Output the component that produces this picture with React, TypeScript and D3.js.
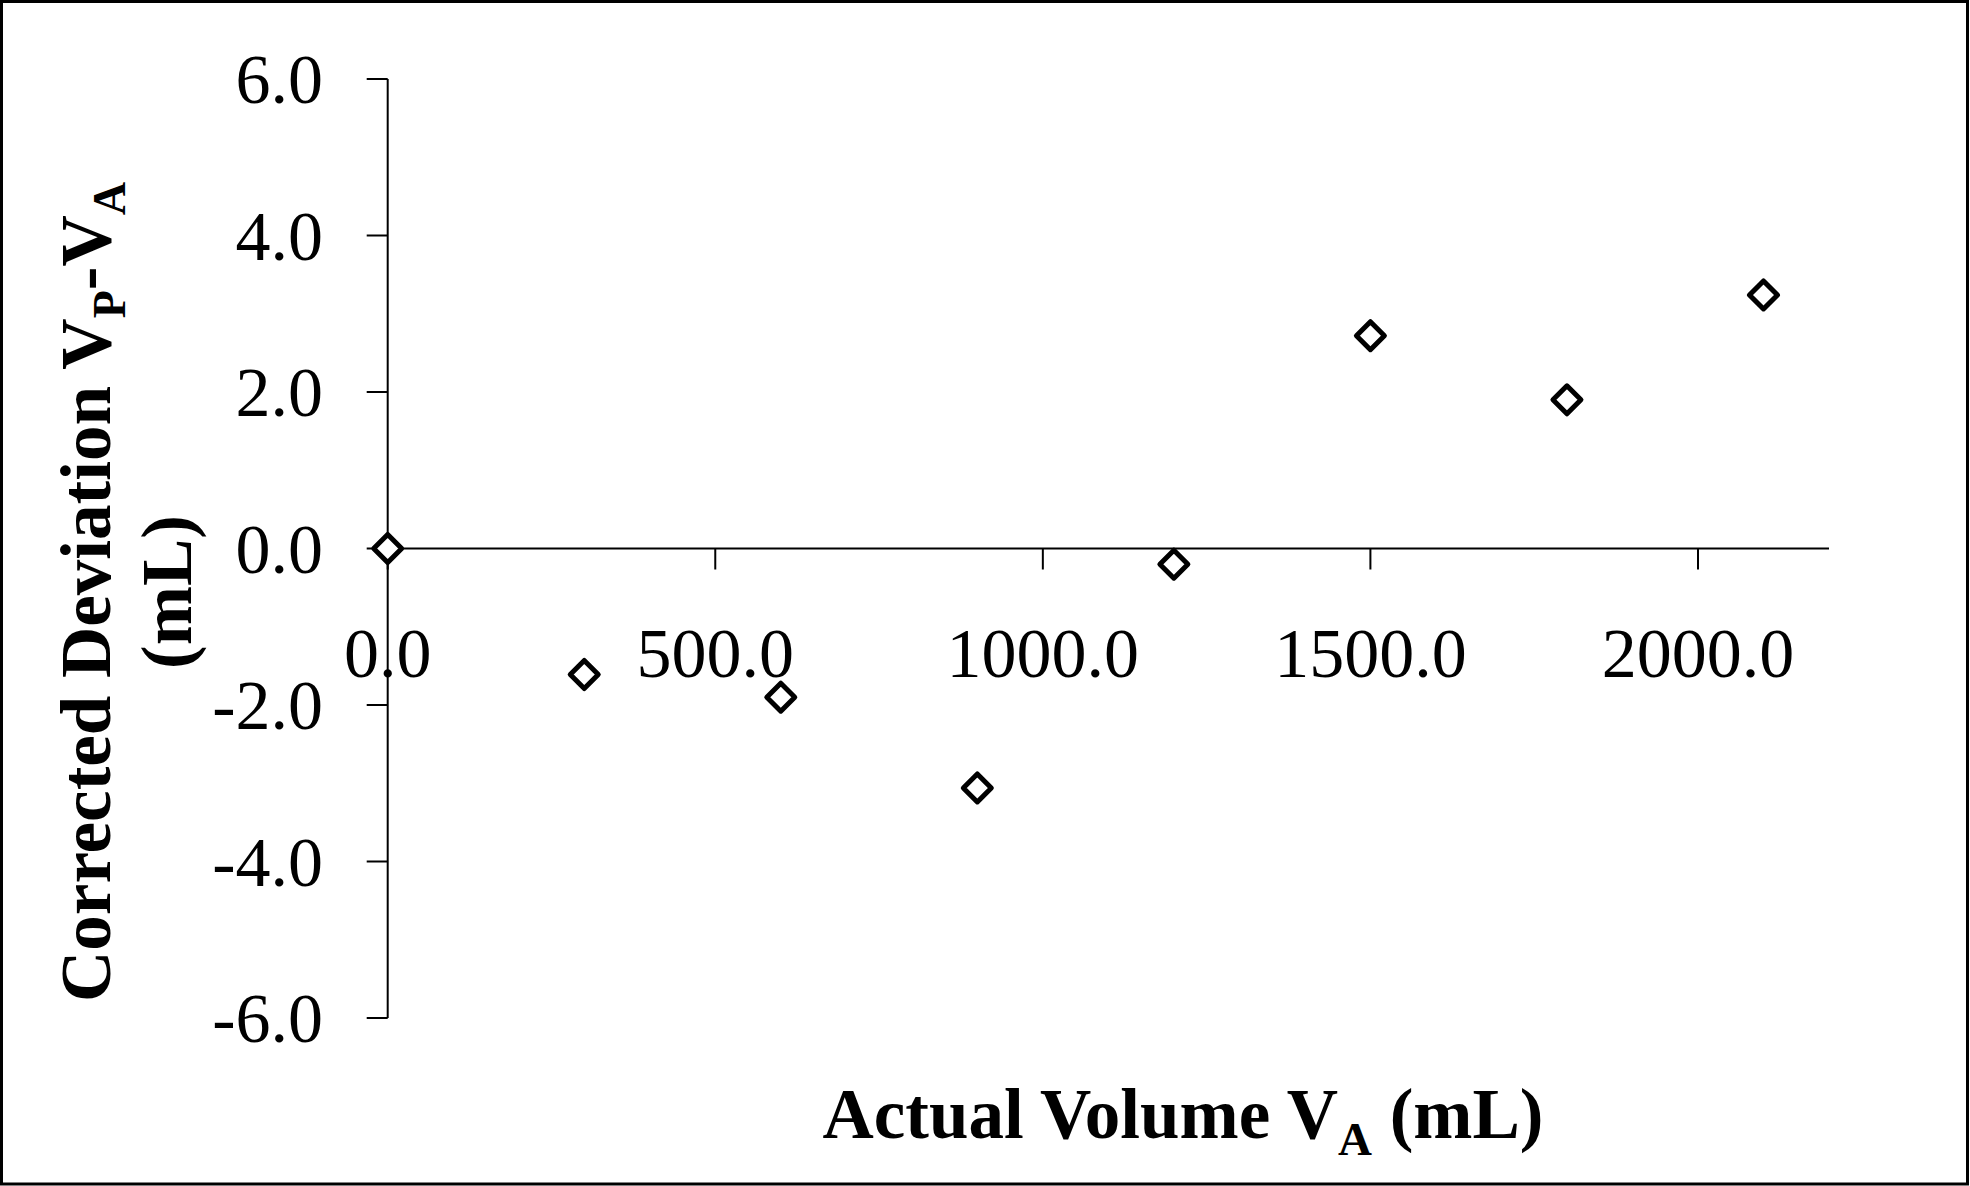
import React from "react";
import * as d3 from "d3";

const actualVolume = [0, 300, 600, 900, 1200, 1500, 1800, 2100];
const deviation = [0.0, -1.61, -1.9, -3.06, -0.2, 2.72, 1.9, 3.24];
const xTicks = [0, 500, 1000, 1500, 2000];
const yTicks = [-6, -4, -2, 0, 2, 4, 6];

const W = 1970;
const H = 1186;
const FONT = "'Liberation Serif', 'Times New Roman', serif";

export default function App() {
  const x = d3.scaleLinear().domain([0, 2200]).range([387.7, 1829]);
  const y = d3.scaleLinear().domain([-6, 6]).range([1018, 79]);
  const f = d3.format(".1f");
  const fmt = (v: number) => f(v).replace("\u2212", "-");
  const r = 14;
  const diamond = `M0,${-r}L${r},0L0,${r}L${-r},0Z`;
  const x0 = x(0);
  const y0 = y(0);

  return (
    <svg
      width={W}
      height={H}
      style={{ position: "absolute", left: 0, top: 0, background: "#fff" }}
      fontFamily={FONT}
    >
      <rect x={0} y={0} width={W} height={H} fill="#fff" />
      <rect x={1.5} y={1.5} width={1966} height={1182.5} fill="none" stroke="#000" strokeWidth={3} />

      {/* y axis */}
      <line x1={x0} x2={x0} y1={y(6)} y2={y(-6)} stroke="#000" strokeWidth={2} />
      {yTicks.map((t) => (
        <g key={"y" + t}>
          <line x1={x0 - 21} x2={x0} y1={y(t)} y2={y(t)} stroke="#000" strokeWidth={2} />
          <text x={323} y={y(t) + 24} textAnchor="end" fontSize={70} fill="#000">
            {fmt(t)}
          </text>
        </g>
      ))}

      {/* x axis */}
      <line x1={x0} x2={x(2200)} y1={y0} y2={y0} stroke="#000" strokeWidth={2} />
      {xTicks.map((t) => (
        <g key={"x" + t}>
          <line x1={x(t)} x2={x(t)} y1={y0} y2={y0 + 21} stroke="#000" strokeWidth={2} />
          <text x={x(t)} y={677} textAnchor="middle" fontSize={70} fill="#000">
            {fmt(t)}
          </text>
        </g>
      ))}

      {/* points */}
      {actualVolume.map((v, i) => (
        <path
          key={"p" + i}
          d={diamond}
          transform={`translate(${x(v)},${y(deviation[i])})`}
          fill="#fff"
          stroke="#000"
          strokeWidth={5}
          strokeLinejoin="round"
        />
      ))}

      {/* x title */}
      <text x={1183} y={1138} textAnchor="middle" fontSize={71} fontWeight="bold" fill="#000">
        Actual Volume V
        <tspan fontSize={47} dy={17}>A</tspan>
        <tspan dy={-17}> (mL)</tspan>
      </text>

      {/* y title */}
      <g transform="translate(110,592) rotate(-90)">
        <text x={0} y={0} textAnchor="middle" fontSize={71} fontWeight="bold" fill="#000">
          Corrected Deviation V
          <tspan fontSize={46} dy={15}>P</tspan>
          <tspan dy={-15}>-V</tspan>
          <tspan fontSize={46} dy={15}>A</tspan>
        </text>
        <text x={0} y={81} textAnchor="middle" fontSize={71} fontWeight="bold" fill="#000">
          (mL)
        </text>
      </g>
    </svg>
  );
}
